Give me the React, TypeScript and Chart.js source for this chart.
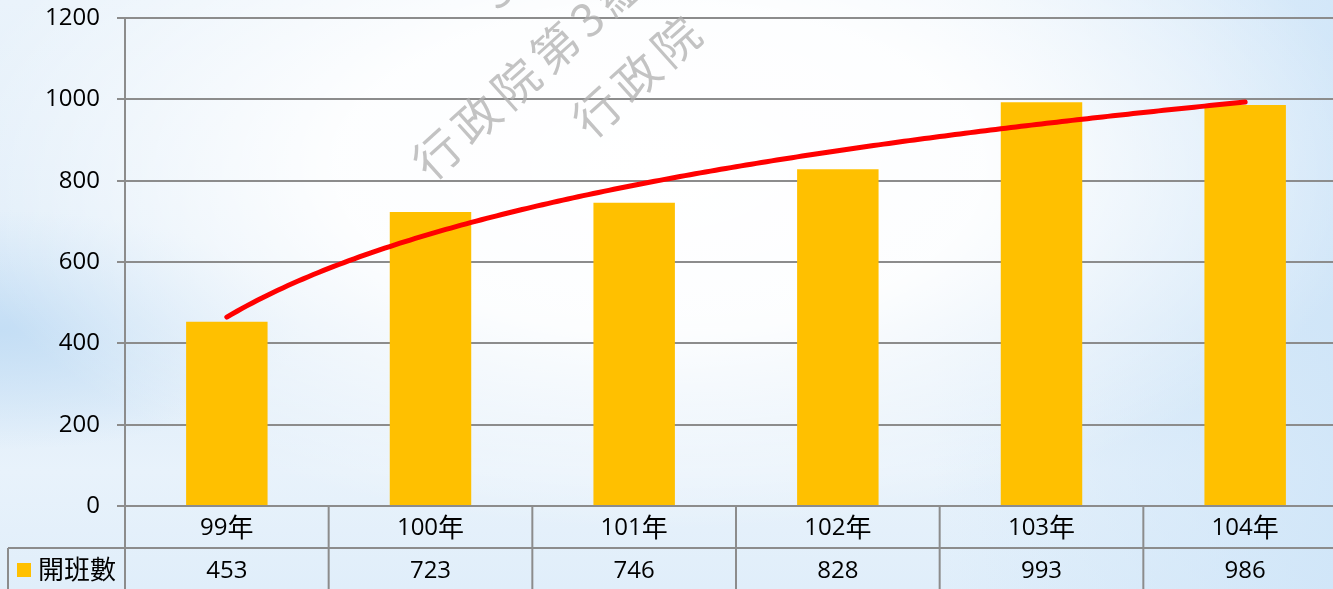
import React, { useEffect, useRef } from 'react';
import { Chart, registerables } from 'chart.js';

Chart.register(...registerables);

const categories = ['99年', '100年', '101年', '102年', '103年', '104年'];
const classCounts = [453, 723, 746, 828, 993, 986];
const seriesName = '開班數';
const yMax = 1200;
const yStep = 200;

const BAR_COLOR = '#FFC000';
const GRID_COLOR = '#8c8c8c';
const LATIN_FONT = "'Open Sans', 'Noto Sans CJK TC', sans-serif";
const CJK_FONT = "'Noto Sans CJK TC', sans-serif";

function drawMixed(ctx: CanvasRenderingContext2D, text: string, cx: number, cy: number, align: 'center' | 'left') {
  const runs: { t: string; cjk: boolean }[] = [];
  for (const ch of text) {
    const cjk = ch.charCodeAt(0) > 0x2e80;
    if (runs.length && runs[runs.length - 1].cjk === cjk) runs[runs.length - 1].t += ch;
    else runs.push({ t: ch, cjk });
  }
  const fontFor = (cjk: boolean) => (cjk ? `26px ${CJK_FONT}` : `24px ${LATIN_FONT}`);
  let total = 0;
  const widths = runs.map((r) => {
    ctx.font = fontFor(r.cjk);
    const w = ctx.measureText(r.t).width;
    total += w;
    return w;
  });
  let x = align === 'center' ? cx - total / 2 : cx;
  ctx.textAlign = 'left';
  ctx.textBaseline = 'middle';
  ctx.fillStyle = '#000';
  runs.forEach((r, i) => {
    ctx.font = fontFor(r.cjk);
    ctx.fillText(r.t, x, cy + (r.cjk ? 0 : 1));
    x += widths[i];
  });
}

function logFit(vals: number[]) {
  const n = vals.length;
  const lx = vals.map((_, i) => Math.log(i + 1));
  const mx = lx.reduce((a, b) => a + b, 0) / n;
  const my = vals.reduce((a, b) => a + b, 0) / n;
  let sxy = 0;
  let sxx = 0;
  for (let i = 0; i < n; i++) {
    sxy += (lx[i] - mx) * (vals[i] - my);
    sxx += (lx[i] - mx) * (lx[i] - mx);
  }
  const b = sxy / sxx;
  return { a: my - b * mx, b };
}

const extrasPlugin = {
  id: 'extras',
  afterDatasetsDraw(chart: any) {
    const ctx = chart.ctx as CanvasRenderingContext2D;
    const xs = chart.scales.x;
    const ys = chart.scales.y;
    const { a, b } = logFit(classCounts);
    const x0 = xs.getPixelForValue(0);
    const step = xs.getPixelForValue(1) - x0;
    ctx.save();
    ctx.strokeStyle = '#FF0000';
    ctx.lineWidth = 5;
    ctx.lineCap = 'round';
    ctx.lineJoin = 'round';
    ctx.beginPath();
    const last = classCounts.length - 1;
    for (let k = 0; k <= 200; k++) {
      const t = (k / 200) * last;
      const px = x0 + t * step;
      const py = ys.getPixelForValue(a + b * Math.log(t + 1));
      if (k === 0) ctx.moveTo(px, py);
      else ctx.lineTo(px, py);
    }
    ctx.stroke();
    ctx.restore();
  },
  afterDraw(chart: any) {
    const ctx = chart.ctx as CanvasRenderingContext2D;
    const xs = chart.scales.x;
    const area = chart.chartArea;
    const x0 = xs.getPixelForValue(0);
    const step = xs.getPixelForValue(1) - x0;
    const top = area.bottom;
    const rowH = 42;
    const row2 = top + rowH;
    const bottom = chart.height + 2;
    const right = chart.width;
    ctx.save();
    ctx.strokeStyle = GRID_COLOR;
    ctx.lineWidth = 2;
    ctx.beginPath();
    ctx.moveTo(8, row2);
    ctx.lineTo(right, row2);
    ctx.moveTo(area.left, top);
    ctx.lineTo(area.left, bottom);
    ctx.moveTo(8, row2);
    ctx.lineTo(8, bottom);
    for (let i = 1; i <= categories.length; i++) {
      const lx = x0 - step / 2 + i * step;
      ctx.moveTo(lx, top);
      ctx.lineTo(lx, bottom);
    }
    ctx.stroke();

    categories.forEach((c, i) => {
      const cx = xs.getPixelForValue(i);
      drawMixed(ctx, c, cx, top + rowH / 2, 'center');
      drawMixed(ctx, String(classCounts[i]), cx, row2 + rowH / 2 + 1, 'center');
    });
    ctx.fillStyle = BAR_COLOR;
    ctx.fillRect(17, row2 + 15, 14, 14);
    drawMixed(ctx, seriesName, 38, row2 + rowH / 2, 'left');

    // watermark
    ctx.fillStyle = 'rgba(175,175,175,0.75)';
    ctx.font = `46px ${CJK_FONT}`;
    (ctx as any).letterSpacing = '7px';
    ctx.textAlign = 'left';
    ctx.textBaseline = 'middle';
    const ang = (-42 * Math.PI) / 180;
    const marks: [number, number, string][] = [
      [437, 154, '行政院第3組'],
      [597, 112, '行政院'],
    ];
    marks.forEach(([mx, my, t]) => {
      ctx.save();
      ctx.translate(mx, my);
      ctx.rotate(ang);
      ctx.fillText(t, -23, 0);
      ctx.restore();
    });
    ctx.save();
    ctx.translate(498, -12);
    ctx.rotate(ang);
    ctx.textAlign = 'center';
    ctx.fillText('3', 0, 0);
    ctx.restore();
    ctx.restore();
  },
};

export default function App() {
  const ref = useRef<HTMLCanvasElement>(null);
  useEffect(() => {
    if (!ref.current) return;
    const chart = new Chart(ref.current, {
      type: 'bar',
      data: {
        labels: categories,
        datasets: [
          {
            label: seriesName,
            data: classCounts,
            backgroundColor: BAR_COLOR,
            borderWidth: 0,
            barPercentage: 0.4,
            categoryPercentage: 1,
          },
        ],
      },
      options: {
        animation: false,
        responsive: false,
        devicePixelRatio: 1,
        layout: { padding: { left: 0, right: 0, top: 18, bottom: 83 } },
        plugins: {
          legend: { display: false },
          tooltip: { enabled: false },
        },
        scales: {
          x: {
            display: false,
          },
          y: {
            min: 0,
            max: yMax,
            afterFit: (s: any) => {
              s.width = 125;
              s.paddingTop = 0;
              s.paddingBottom = 0;
            },
            ticks: {
              stepSize: yStep,
              padding: 17,
              color: '#000',
              font: { family: LATIN_FONT, size: 24 },
              callback: (v: any) => String(v),
            },
            grid: {
              color: GRID_COLOR,
              lineWidth: 2,
              tickLength: 8,
              drawTicks: true,
            },
            border: { color: GRID_COLOR, width: 2 },
          },
        },
      },
      plugins: [extrasPlugin],
    });
    return () => chart.destroy();
  }, []);

  return (
    <div
      style={{
        position: 'fixed',
        left: 0,
        top: 0,
        width: 1333,
        height: 589,
        overflow: 'hidden',
        background:
          'radial-gradient(ellipse 720px 360px at 660px 170px, #ffffff 0%, rgba(255,255,255,0.92) 45%, rgba(255,255,255,0) 100%), radial-gradient(ellipse 300px 120px at 0px 330px, #c4def5 0%, rgba(196,222,245,0) 100%), linear-gradient(90deg, rgba(255,255,255,0) 70%, rgba(205,228,248,0.8) 100%), linear-gradient(#eaf3fb, #dcebf8 55%, #e8f2fb 80%, #e0eefa)',
      }}
    >
      <canvas ref={ref} width={1347} height={589} style={{ display: 'block', width: 1347, height: 589 }} />
    </div>
  );
}
